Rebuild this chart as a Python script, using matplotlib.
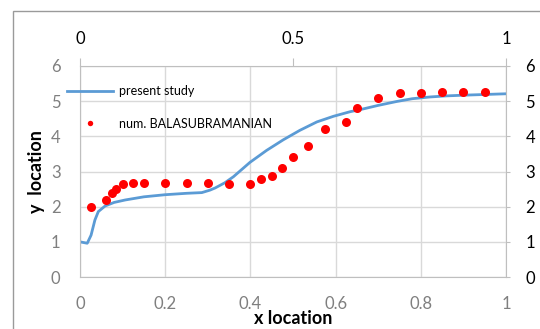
import matplotlib
matplotlib.use("Agg")
import matplotlib.pyplot as plt
from matplotlib.patches import Rectangle

plt.rcParams["font.family"] = ["Lato", "DejaVu Sans"]

# present study curve
x_line = [0.0, 0.017, 0.026, 0.035, 0.043, 0.059, 0.08, 0.106, 0.15, 0.2, 0.25, 0.286,
          0.305, 0.317, 0.34, 0.36, 0.399, 0.438, 0.477, 0.516, 0.556, 0.595, 0.634,
          0.665, 0.7, 0.743, 0.78, 0.822, 0.86, 0.9, 0.95, 1.0]
y_line = [1.0, 0.96, 1.19, 1.62, 1.86, 2.02, 2.12, 2.19, 2.28, 2.34, 2.38, 2.40,
          2.47, 2.53, 2.68, 2.85, 3.26, 3.6, 3.9, 4.17, 4.41, 4.57, 4.7,
          4.78, 4.88, 4.99, 5.07, 5.12, 5.15, 5.17, 5.19, 5.21]

# reference points (Balasubramanian)
x_pts = [0.025, 0.06, 0.075, 0.085, 0.1, 0.125, 0.15, 0.2, 0.25, 0.3, 0.35, 0.4,
         0.425, 0.45, 0.475, 0.5, 0.535, 0.575, 0.625, 0.65, 0.7, 0.75, 0.8, 0.85,
         0.9, 0.95]
y_pts = [2.0, 2.2, 2.4, 2.5, 2.65, 2.67, 2.68, 2.66, 2.66, 2.66, 2.65, 2.65,
         2.8, 2.88, 3.1, 3.4, 3.73, 4.22, 4.42, 4.8, 5.1, 5.22, 5.22, 5.25,
         5.25, 5.25]

bottom_ticks = [0, 0.2, 0.4, 0.6, 0.8, 1]
top_ticks = [0, 0.5, 1]
y_ticks = [0, 1, 2, 3, 4, 5, 6]

W, H = 540, 329
fig = plt.figure(figsize=(W / 100, H / 100), dpi=100)
fig.patches.append(Rectangle((13 / W, -0.1), 1.2, 1 - 11 / H + 0.1,
                             transform=fig.transFigure, fill=False,
                             edgecolor="#9a9a9a", lw=1))

ax = fig.add_axes([80 / W, (H - 277) / H, 426 / W, 211 / H])
ax.set_xlim(0, 1)
ax.set_ylim(0, 6)
ax.set_xticks(bottom_ticks)
ax.set_xticklabels(["0", "0.2", "0.4", "0.6", "0.8", "1"])
ax.set_yticks(y_ticks)
ax.grid(True, color="#d9d9d9", lw=1)
ax.set_axisbelow(True)
for s in ax.spines.values():
    s.set_color("#bfbfbf")
ax.tick_params(length=0, labelsize=12, colors="#7f7f7f")
ax.tick_params(axis="y", pad=14)
ax.tick_params(axis="x", pad=14)

ax.plot(x_line, y_line, color="#5b9bd5", lw=2, label="present study")
ax.plot(x_pts, y_pts, "o", color="#ff0000", ms=6.5, mec="none",
        label="num. BALASUBRAMANIAN")

ax.set_ylabel("y  location", fontsize=13, fontweight="bold", labelpad=4)
ax.set_xlabel("x location", fontsize=13, fontweight="bold", labelpad=-2)

axr = ax.twinx()
axr.set_ylim(0, 6)
axr.set_yticks(y_ticks)
axr.tick_params(axis="y", length=3, color="#bfbfbf", labelsize=12,
                labelcolor="black", pad=11)
for s in axr.spines.values():
    s.set_visible(False)

axt = ax.twiny()
axt.set_xlim(0, 1)
axt.set_xticks(top_ticks)
axt.set_xticklabels(["0", "0.5", "1"])
axt.tick_params(axis="x", length=6, color="#bfbfbf", labelsize=12,
                labelcolor="black", pad=8)
for s in axt.spines.values():
    s.set_visible(False)

leg = ax.legend(loc="upper left", bbox_to_anchor=(67 / W, 1 - 85 / H),
                bbox_transform=fig.transFigure, frameon=False, fontsize=9,
                handlelength=3.7, handletextpad=0.45, labelspacing=1.65,
                markerscale=0.6, borderpad=0, borderaxespad=0)

fig.savefig("out.png", dpi=100)
